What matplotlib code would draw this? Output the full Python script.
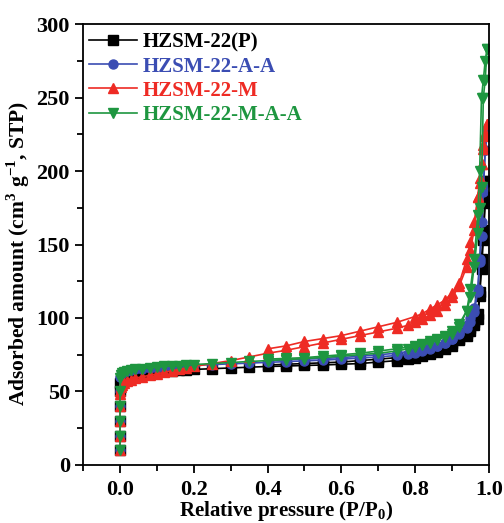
import matplotlib
matplotlib.use("Agg")
import matplotlib.pyplot as plt
from matplotlib.ticker import MultipleLocator, FormatStrFormatter

# ---------------- data ----------------
p_ads = [0.0, 0.0, 0.0, 0.0, 0.0, 0.001, 0.003, 0.006, 0.01, 0.02, 0.03, 0.04,
         0.06, 0.08, 0.10, 0.12, 0.14, 0.16, 0.18, 0.20, 0.25, 0.30, 0.35, 0.40,
         0.45, 0.50, 0.55, 0.60, 0.65, 0.70, 0.75, 0.78, 0.80, 0.82, 0.84, 0.86,
         0.88, 0.90, 0.92, 0.94, 0.95, 0.96, 0.97, 0.975, 0.98, 0.985, 0.99, 0.995]
p_des = [0.995, 0.99, 0.985, 0.98, 0.975, 0.97, 0.96, 0.95, 0.94, 0.92, 0.90,
         0.88, 0.86, 0.84, 0.82, 0.80, 0.75, 0.70, 0.65, 0.60, 0.55, 0.50, 0.45, 0.40]

P_ads = [10, 20, 30, 40, 50, 56, 58, 59, 60, 61, 61.5, 62,
         62.5, 63, 63.5, 64, 64.2, 64.5, 64.8, 65, 65.5, 66, 66.5, 67,
         67.3, 67.7, 68, 68.5, 69, 70, 71, 72, 73, 74, 75.5, 77,
         79, 81, 85, 88, 91, 95, 99, 115, 133, 153, 178, 193]
P_des = [193, 182, 160, 140, 118, 103, 97, 93, 90, 86, 83,
         80, 78, 77, 76, 75, 73, 72, 71, 70, 69.5, 69, 68.5, 68]

A_ads = [10, 20, 30, 40, 50, 60, 62, 63, 63.5, 64, 64.5, 65,
         65.5, 66, 66.3, 66.6, 66.9, 67.2, 67.5, 67.8, 68.3, 68.8, 69.3, 69.8,
         70.3, 70.8, 71.3, 72, 72.7, 73.5, 74.5, 75.5, 76.5, 77.5, 79, 81,
         83, 86, 90, 95, 100, 107, 120, 138, 156, 186, 214, 226]
A_des = [226, 214, 190, 165, 140, 118, 104, 97, 93, 89, 86,
         83, 81, 80, 79, 78, 76, 75, 74, 73, 72.5, 72, 71.5, 71]

M_ads = [10, 20, 30, 40, 48, 50, 53, 54.5, 55.5, 57, 58, 59,
         60, 61, 62, 63, 64, 65, 66, 67, 69, 71, 73.5, 76,
         78, 80.5, 83, 85.5, 88, 90.5, 93, 95, 97, 99, 102, 105,
         109, 114, 122, 135, 146, 160, 182, 195, 205, 215, 224, 232]
M_des = [232, 226, 218, 205, 192, 182, 165, 152, 140, 124, 117,
         112, 109, 106, 103, 101, 97, 94, 91, 88, 86, 84, 81, 79]

MAA_ads = [10, 20, 30, 40, 50, 59, 61, 62.5, 63, 64, 64.5, 65,
           65.5, 66, 66.5, 67, 67.3, 67.6, 68, 68.3, 69, 69.7, 70.4, 71,
           71.7, 72.4, 73.1, 74, 75, 76, 77.5, 79, 80, 81.5, 83, 85,
           87, 89, 94, 105, 114, 135, 158, 175, 189, 250, 262, 283]
MAA_des = [283, 275, 262, 250, 200, 170, 140, 120, 105, 96, 91,
           88, 86, 84, 82, 81, 79, 77.5, 76, 75, 74, 73, 72.5, 72]

labels = ["HZSM-22(P)", "HZSM-22-A-A", "HZSM-22-M", "HZSM-22-M-A-A"]
colors = ["#000000", "#3b4db3", "#ee2b24", "#1e9640"]
markers = ["s", "o", "^", "v"]
ads_sets = [P_ads, A_ads, M_ads, MAA_ads]
des_sets = [P_des, A_des, M_des, MAA_des]

# ---------------- figure ----------------
plt.rcParams["font.family"] = ["Liberation Serif", "DejaVu Serif"]
plt.rcParams["font.weight"] = "bold"
plt.rcParams["mathtext.fontset"] = "custom"
plt.rcParams["mathtext.rm"] = "Liberation Serif:bold"
plt.rcParams["mathtext.bf"] = "Liberation Serif:bold"

fig = plt.figure(figsize=(5.04, 5.23), dpi=100)
ax = fig.add_axes([0.165, 0.111, 0.805, 0.843])

for lab, c, m, ya, yd in zip(labels, colors, markers, ads_sets, des_sets):
    ax.plot(p_ads, ya, color=c, marker=m, markersize=6.5, lw=1.2, label=lab)
    ax.plot(p_des, yd, color=c, marker=m, markersize=6.5, lw=1.2)

ax.set_xlim(-0.1, 1.0)
ax.set_ylim(0, 300)
ax.xaxis.set_major_locator(MultipleLocator(0.2))
ax.xaxis.set_minor_locator(MultipleLocator(0.1))
ax.yaxis.set_major_locator(MultipleLocator(50))
ax.yaxis.set_minor_locator(MultipleLocator(25))
ax.xaxis.set_major_formatter(FormatStrFormatter("%.1f"))
ax.tick_params(axis="both", which="major", direction="out", length=6, width=1.3,
               labelsize=16)
ax.tick_params(axis="x", which="major", pad=5)
ax.tick_params(axis="both", which="minor", direction="out", length=4, width=1.3)
for s in ax.spines.values():
    s.set_linewidth(1.3)

ax.set_xlabel("Relative pressure (P/P$_0$)", fontsize=15, fontweight="bold", labelpad=-1)
ax.set_ylabel("Adsorbed amount (cm$^3$ g$^{-1}$, STP)", fontsize=15.5,
              fontweight="bold")
ax.yaxis.set_label_coords(-0.125, 0.48)

leg = ax.legend(loc="upper left", frameon=False, fontsize=15, handlelength=2.3,
                handletextpad=0.3, labelspacing=0.2, borderaxespad=0,
                bbox_to_anchor=(-0.007, 1.0))
for txt, c in zip(leg.get_texts(), colors):
    txt.set_color(c)

fig.savefig("out.png", dpi=100)
